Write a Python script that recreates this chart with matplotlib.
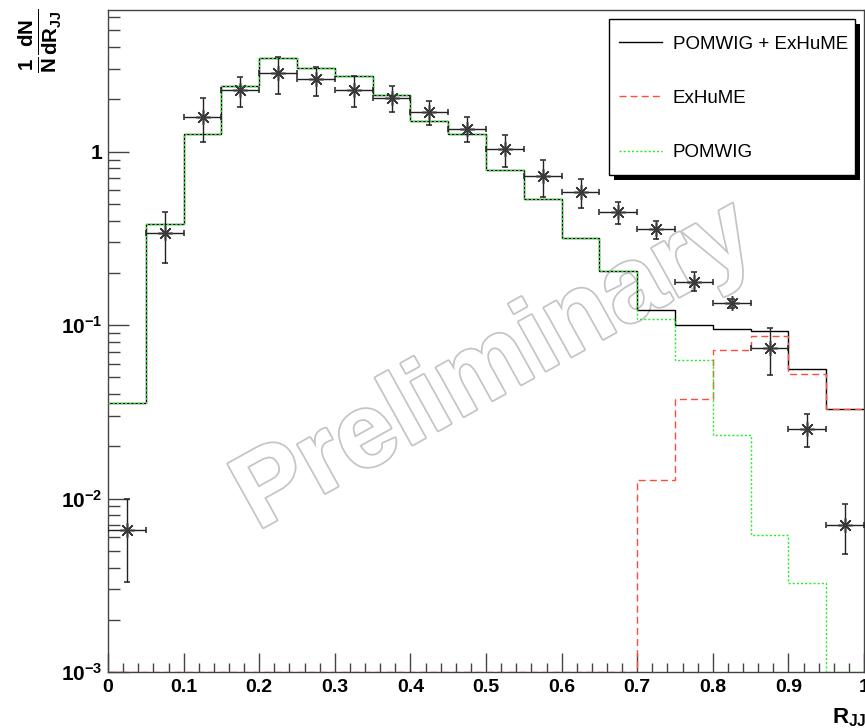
import numpy as np
import matplotlib
matplotlib.use("Agg")
import matplotlib.pyplot as plt
import matplotlib.patheffects as pe
from matplotlib.patches import Rectangle
from matplotlib.ticker import MultipleLocator, LogLocator, FuncFormatter, NullFormatter

plt.rcParams['font.family'] = ['Liberation Sans', 'DejaVu Sans']
plt.rcParams['font.weight'] = 'bold'
plt.rcParams['mathtext.fontset'] = 'custom'
plt.rcParams['mathtext.rm'] = 'Liberation Sans:bold'
plt.rcParams['mathtext.bf'] = 'Liberation Sans:bold'
plt.rcParams['mathtext.it'] = 'Liberation Sans:bold'

# bin edges of R_JJ
edges = [0.0, 0.05, 0.1, 0.15, 0.2, 0.25, 0.3, 0.35, 0.4, 0.45, 0.5,
         0.55, 0.6, 0.65, 0.7, 0.75, 0.8, 0.85, 0.9, 0.95, 1.0]

# MC histograms
pomwig = [0.0355, 0.38, 1.27, 2.39, 3.45, 3.04, 2.74, 2.12, 1.51, 1.26,
          0.782, 0.53, 0.317, 0.205, 0.108, 0.0628, 0.0232, 0.0062, 0.00328, 0.0]
exhume = [0.0, 0.0, 0.0, 0.0, 0.0, 0.0, 0.0, 0.0, 0.0, 0.0,
          0.0, 0.0, 0.0, 0.0, 0.0128, 0.0374, 0.0717, 0.087, 0.0521, 0.0327]
total = [0.0355, 0.38, 1.27, 2.39, 3.45, 3.04, 2.74, 2.12, 1.51, 1.26,
         0.782, 0.53, 0.317, 0.205, 0.122, 0.0999, 0.095, 0.0926, 0.0555, 0.0327]

# data points
r_jj = [0.025, 0.075, 0.125, 0.175, 0.225, 0.275, 0.325, 0.375, 0.425, 0.475,
        0.525, 0.575, 0.625, 0.675, 0.725, 0.775, 0.825, 0.875, 0.925, 0.975]
data = [0.00656, 0.339, 1.59, 2.26, 2.85, 2.61, 2.26, 2.03, 1.70, 1.35,
        1.03, 0.722, 0.584, 0.45, 0.357, 0.178, 0.1337, 0.0738, 0.0253, 0.00702]
data_hi = [0.0100, 0.448, 2.03, 2.70, 3.52, 3.08, 2.73, 2.39, 1.96, 1.59,
           1.25, 0.893, 0.697, 0.513, 0.399, 0.203, 0.142, 0.0963, 0.0309, 0.00927]
data_lo = [0.0033, 0.227, 1.13, 1.81, 2.15, 2.09, 1.81, 1.70, 1.43, 1.13,
           0.81, 0.549, 0.470, 0.382, 0.312, 0.157, 0.126, 0.0512, 0.0199, 0.00482]
half_bin = 0.025

ymin, ymax = 1e-3, 6.55

fig = plt.figure(figsize=(8.65, 7.28), dpi=100)
ax = fig.add_axes([0.1249, 0.0769, 0.874, 0.9094])
ax.set_yscale('log')
ax.set_xlim(0, 1)
ax.set_ylim(ymin, ymax)

# watermark, underneath the curves
ax.text(0.512, 0.46, 'Preliminary', transform=ax.transAxes, fontsize=76,
        fontweight='bold', color='white', ha='center', va='center',
        rotation=29, rotation_mode='anchor', zorder=0.5,
        path_effects=[pe.withStroke(linewidth=2.5, foreground='#c4c4c4')])

# empty bins are drawn on the bottom of the frame, like ROOT does
h_tot = ax.stairs(np.clip(total, ymin, None), edges, baseline=None,
                  color='black', lw=1, zorder=2, label='POMWIG + ExHuME')
h_exh = ax.stairs(np.clip(exhume, ymin, None), edges, baseline=None,
                  color='#ff4b3a', lw=1, ls=(0, (5, 3)), zorder=3, label='ExHuME')
h_pom = ax.stairs(np.clip(pomwig, ymin, None), edges, baseline=None,
                  color='#22ee22', lw=1, ls=(0, (1.5, 1.5)), zorder=3, label='POMWIG')

data = np.array(data)
yerr = [data - np.array(data_lo), np.array(data_hi) - data]
ax.errorbar(r_jj, data, xerr=half_bin, yerr=yerr, linestyle='none',
            marker=(8, 2, 0), ms=10.5, mec='#3a3a3a', mfc='#3a3a3a', mew=1.1,
            ecolor='#222222', elinewidth=1, capsize=2.2, capthick=1, zorder=4)

# axes / ticks
for s in ax.spines.values():
    s.set_color('#444444')
    s.set_linewidth(1)
ax.xaxis.set_major_locator(MultipleLocator(0.1))
ax.xaxis.set_minor_locator(MultipleLocator(0.02))
ax.xaxis.set_major_formatter(FuncFormatter(lambda v, p: '%g' % round(v, 2)))
ax.yaxis.set_major_locator(LogLocator(base=10))
ax.yaxis.set_minor_locator(LogLocator(base=10, subs=np.arange(2, 10)))
ax.yaxis.set_minor_formatter(NullFormatter())


def yfmt(v, pos):
    e = int(round(np.log10(v)))
    if e == 0:
        return '1'
    return r'$\mathbf{10^{%d}}$' % e


ax.yaxis.set_major_formatter(FuncFormatter(yfmt))
ax.tick_params(axis='x', which='major', direction='in', length=13.5, width=1,
               color='#444444', labelsize=14, pad=5, top=False)
ax.tick_params(axis='x', which='minor', direction='in', length=6.7, width=1,
               color='#444444', top=False)
ax.tick_params(axis='y', which='major', direction='in', length=15, width=1,
               color='#444444', labelsize=15, pad=4, right=False)
ax.tick_params(axis='y', which='minor', direction='in', length=8.6, width=1,
               color='#444444', right=False)

# axis titles
fig.text(832 / 865, (728 - 723) / 728, r'$\mathbf{R_{JJ}}$', fontsize=16,
         ha='left', va='baseline')
fig.text(40 / 865, 1 - 9 / 728,
         r'$\frac{\mathbf{1}}{\mathbf{N}}\frac{\mathbf{dN}}{\mathbf{dR_{JJ}}}$',
         fontsize=21, rotation=90, ha='center', va='top')

# legend box (ROOT style with a hard drop shadow), entries placed inside it
box_x0, box_x1 = 0.6627, 0.988
box_y0, box_y1 = 0.7508, 0.9864
dx = 5 / ax.bbox.width
dy = 5 / ax.bbox.height
ax.add_patch(Rectangle((box_x0 + dx, box_y0 - dy), box_x1 - box_x0, box_y1 - box_y0,
                       transform=ax.transAxes, facecolor='black',
                       edgecolor='none', zorder=5.4, clip_on=False))
ax.add_patch(Rectangle((box_x0, box_y0), box_x1 - box_x0, box_y1 - box_y0,
                       transform=ax.transAxes, facecolor='white',
                       edgecolor='black', lw=1, zorder=5.5, clip_on=False))
leg = ax.legend(handles=[h_tot, h_exh, h_pom], loc='upper left',
                bbox_to_anchor=(box_x0, 0.977), borderaxespad=0,
                frameon=False, prop={'weight': 'normal', 'size': 13.5},
                handlelength=2.3, handletextpad=0.55, borderpad=0.55,
                labelspacing=1.98)
leg.set_zorder(6)

fig.savefig('out.png', dpi=100)
